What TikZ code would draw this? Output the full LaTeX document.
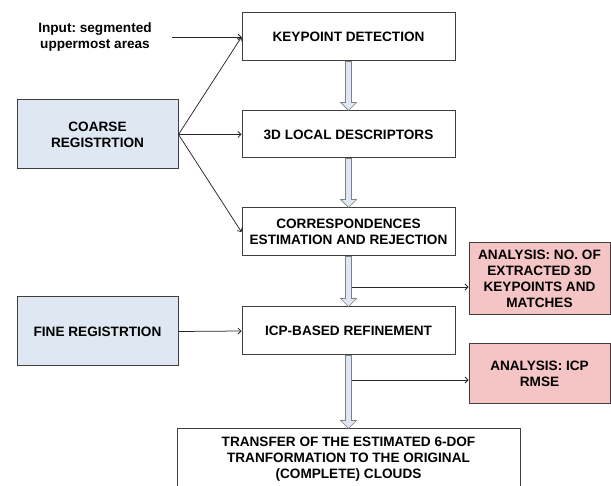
\documentclass[tikz,border=0pt]{standalone}
\usepackage{fontspec}
\setmainfont{Liberation Sans}
\usetikzlibrary{arrows.meta,calc}
\frenchspacing
\definecolor{bluefill}{HTML}{DFE7F2}
\definecolor{pinkfill}{HTML}{F5C4C4}
\definecolor{boxline}{HTML}{3F3F3F}
\definecolor{barline}{HTML}{808080}
\tikzset{
  mainbox/.style={draw=boxline, line width=1pt, fill=white, minimum width=213pt, minimum height=48pt, align=center, inner sep=2pt, font=\bfseries\fontsize{13.6}{16.2}\selectfont},
  sidebox/.style={mainbox, fill=bluefill, minimum width=161pt, minimum height=69pt},
  anabox/.style={mainbox, fill=pinkfill, minimum width=141pt},
  conn/.style={draw=black!85, line width=0.75pt, -{Straight Barb[length=3pt,width=6pt]}},
  plain/.style={font=\bfseries\fontsize{13.6}{16.2}\selectfont, align=center},
}
\newcommand\hollowarrow[2]{%
  \path[draw=barline, line width=0.7pt, fill=bluefill]
    let \p1=(#1.south), \p2=(#2.north) in
    (\x1-3pt,\y1) -- (\x1+3pt,\y1) -- (\x1+3pt,\y2+8pt) -- (\x1+8pt,\y2+8pt)
    -- (\x1,\y2) -- (\x1-8pt,\y2+8pt) -- (\x1-3pt,\y2+8pt) -- cycle;}
\begin{document}
\begin{tikzpicture}[x=1pt,y=-1pt]
\useasboundingbox (0,0) rectangle (611,486);
\node[mainbox] (kp) at (348.5,37) {KEYPOINT DETECTION};
\node[mainbox, minimum height=47pt] (ld) at (348.5,134.5) {3D LOCAL DESCRIPTORS};
\node[mainbox] (ce) at (348.5,232) {CORRESPONDENCES\\ESTIMATION AND REJECTION};
\node[mainbox] (icp) at (348.5,331) {ICP-BASED REFINEMENT};
\node[mainbox, minimum width=343pt, minimum height=60pt] (tr) at (348.5,459) {TRANSFER OF THE ESTIMATED 6-DOF\\TRANFORMATION TO THE ORIGINAL\\(COMPLETE) CLOUDS};
\node[sidebox] (cr) at (97.5,134.5) {COARSE\\REGISTRTION};
\node[sidebox] (fr) at (97.5,331.5) {FINE REGISTRTION};
\node[anabox, minimum height=72pt] (a1) at (539.5,279) {ANALYSIS: NO. OF\\EXTRACTED 3D\\KEYPOINTS AND\\MATCHES};
\node[anabox, minimum height=60pt] (a2) at (539.5,374) {ANALYSIS: ICP\\RMSE};
\node[plain] (in) at (95,37) {Input: segmented\\uppermost areas};

\hollowarrow{kp}{ld}
\hollowarrow{ld}{ce}
\hollowarrow{ce}{icp}
\hollowarrow{icp}{tr}

\coordinate (inend) at (172,37);
\draw[conn] (inend) -- (kp.west);
\draw[conn] (cr.east) -- (kp.west);
\draw[conn] (cr.east) -- (ld.west);
\draw[conn] (cr.east) -- (ce.west);
\draw[conn] (fr.east) -- (icp.west);
\coordinate (s1) at (352,287);
\coordinate (s2) at (352,380);
\draw[conn] (s1) -- (s1 -| a1.west);
\draw[conn] (s2) -- (s2 -| a2.west);
\end{tikzpicture}
\end{document}
